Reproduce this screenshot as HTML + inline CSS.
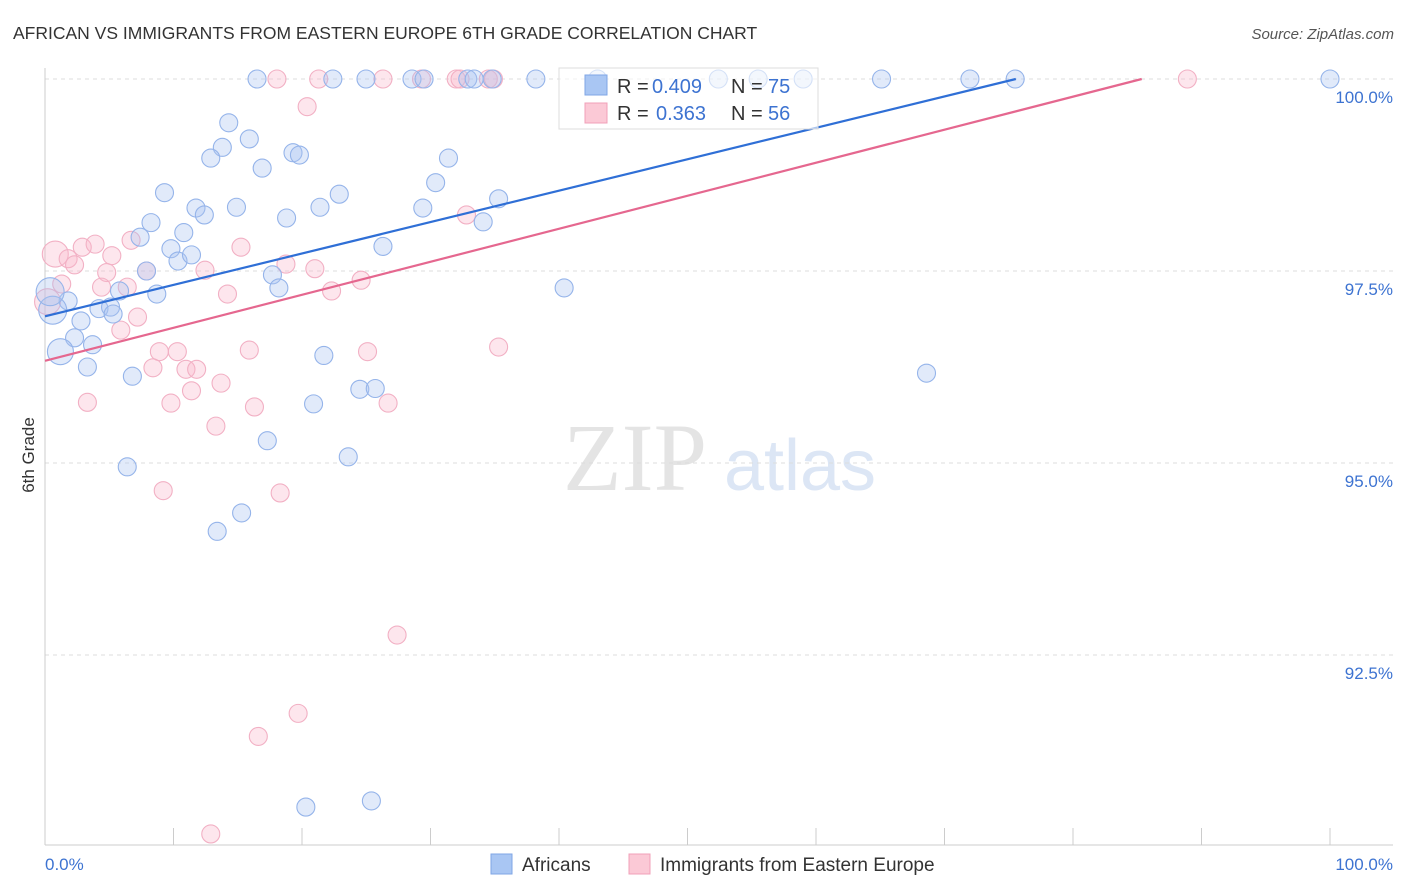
<!DOCTYPE html>
<html><head><meta charset="utf-8"><style>
body{margin:0;background:#fff;font-family:"Liberation Sans",sans-serif;}
svg{display:block}
</style></head><body>
<svg id="chart" width="1406" height="892" viewBox="0 0 1406 892" xmlns="http://www.w3.org/2000/svg">
<text x="13" y="39" font-size="17.5" fill="#333">AFRICAN VS IMMIGRANTS FROM EASTERN EUROPE 6TH GRADE CORRELATION CHART</text>
<text x="1394" y="39" font-size="15" fill="#555" text-anchor="end" font-style="italic">Source: ZipAtlas.com</text>
<g>
<text x="635" y="490" font-size="96" fill="#e4e4e4" text-anchor="middle" font-family="Liberation Serif">ZIP</text>
<text x="800" y="490" font-size="72" fill="#dce6f5" text-anchor="middle">atlas</text>
</g>
<g id="grid"></g>
<g id="axes"></g>
<g id="pts"></g>
<g id="lines"></g>
<text transform="translate(34,455) rotate(-90)" font-size="17" fill="#333" text-anchor="middle">6th Grade</text>
<g>
<rect x="559" y="68" width="259" height="61" fill="#fff" fill-opacity="0.6" stroke="#ddd"/>
<rect x="585" y="75" width="22" height="20" fill="#a9c6f3" stroke="#7fa6e6"/>
<text x="617" y="93" font-size="20" fill="#333">R =</text>
<text x="652" y="93" font-size="20" fill="#3d73d1">0.409</text>
<text x="731" y="93" font-size="20" fill="#333">N =</text>
<text x="768" y="93" font-size="20" fill="#3d73d1">75</text>
<rect x="585" y="103" width="22" height="20" fill="#fbc9d6" stroke="#f0a0b8"/>
<text x="617" y="120" font-size="20" fill="#333">R =</text>
<text x="656" y="120" font-size="20" fill="#3d73d1">0.363</text>
<text x="731" y="120" font-size="20" fill="#333">N =</text>
<text x="768" y="120" font-size="20" fill="#3d73d1">56</text>
</g>
<g>
<rect x="491" y="854" width="21" height="20" fill="#a9c6f3" stroke="#7fa6e6"/>
<text x="522" y="871" font-size="19" fill="#333">Africans</text>
<rect x="629" y="854" width="21" height="20" fill="#fbc9d6" stroke="#f0a0b8"/>
<text x="660" y="871" font-size="19" fill="#333">Immigrants from Eastern Europe</text>
</g>
</svg>
<script>
const blueX=[16.5,22.4,24.98,28.56,29.5,32.9,33.4,34.8,38.2,43,52.4,55.5,59,65.1,71.98,75.5,100,14.3,13.8,12.9,15.9,16.9,19.3,19.8,31.4,30.4,9.3,11.75,12.4,14.9,18.8,21.4,22.9,29.4,35.3,34.1,8.25,7.4,10.8,9.8,10.35,11.4,26.3,7.9,17.7,18.2,40.4,8.7,5.8,1.8,4.2,5.1,5.3,2.8,0.6,0.4,2.3,3.7,1.2,3.3,21.7,6.8,24.5,25.7,20.9,68.6,17.3,23.6,6.4,15.3,13.4,20.3,25.4];
const blueY=[100,100,100,100,100,100,100,100,100,100,100,100,100,100,100,100,100,99.43,99.11,98.97,99.22,98.84,99.04,99.01,98.97,98.65,98.52,98.32,98.23,98.33,98.19,98.33,98.5,98.32,98.44,98.14,98.13,97.94,98,97.79,97.63,97.71,97.82,97.5,97.45,97.28,97.28,97.2,97.24,97.11,97.01,97.03,96.94,96.85,96.99,97.23,96.63,96.54,96.45,96.25,96.4,96.13,95.96,95.97,95.77,96.17,95.29,95.08,94.95,94.35,94.11,90.52,90.6];
const blueR=[9,9,9,9,9,9,9,9,9,9,9,9,9,9,9,9,9,9,9,9,9,9,9,9,9,9,9,9,9,9,9,9,9,9,9,9,9,9,9,9,9,9,9,9,9,9,9,9,9,9,9,9,9,9,14,14,9,9,13,9,9,9,9,9,9,9,9,9,9,9,9,9,9];
const pinkX=[18.05,21.3,26.3,29.3,32,32.3,34.5,34.9,88.9,20.4,32.8,0.8,2.9,3.9,6.7,15.25,1.8,2.3,5.2,4.8,7.9,12.45,18.75,21,24.6,22.3,1.3,4.4,6.4,14.2,0.2,7.2,5.9,8.9,10.3,15.9,25.1,35.3,8.4,10.97,11.8,11.4,13.7,3.3,9.8,16.3,26.7,13.3,9.2,18.3,27.4,19.7,16.6,12.9];
const pinkY=[100,100,100,100,100,100,100,100,100,99.64,98.23,97.72,97.81,97.85,97.9,97.81,97.66,97.58,97.7,97.48,97.5,97.51,97.59,97.53,97.38,97.24,97.33,97.29,97.29,97.2,97.1,96.9,96.73,96.45,96.45,96.47,96.45,96.51,96.24,96.22,96.22,95.94,96.04,95.79,95.78,95.73,95.78,95.48,94.64,94.61,92.76,91.74,91.44,90.17];
const pinkR=pinkX.map((_,i)=>i===11||i===30?13:9);
const fits={blue:{a:96.91,b:0.0409},pink:{a:96.33,b:0.043}};
const xTicks=[0,10,20,30,40,50,60,70,80,90,100];
const yTicks=[100,97.5,95,92.5];
const yLabels=["100.0%","97.5%","95.0%","92.5%"];
const X=v=>45+v*12.85, Y=v=>79+(100-v)*76.8;
const NS="http://www.w3.org/2000/svg";
function mk(t,p,a){const e=document.createElementNS(NS,t);for(const k in a)e.setAttribute(k,a[k]);p.appendChild(e);return e;}
const grid=document.getElementById('grid'),axes=document.getElementById('axes'),pts=document.getElementById('pts'),lines=document.getElementById('lines');
yTicks.forEach((v,i)=>{
 const l=mk('line',grid,{x1:45,x2:1393,y1:Y(v),y2:Y(v),stroke:'#ddd','stroke-dasharray':'4,4'});
 
 
 const t=mk('text',axes,{x:1393,y:Y(v)+24,'font-size':17,fill:'#3d73d1','text-anchor':'end'});t.textContent=yLabels[i];
 
 
});
const ax=mk('line',axes,{x1:45,x2:1393,y1:845,y2:845,stroke:'#ccc'});


const ay=mk('line',axes,{x1:45,x2:45,y1:68,y2:845,stroke:'#ccc'});


xTicks.forEach(v=>{const t=mk('line',axes,{x1:X(v),x2:X(v),y1:828,y2:845,stroke:'#ccc'});
 
 });
[[0,'0.0%','start',45],[100,'100.0%','end',1393]].forEach(d=>{const t=mk('text',axes,{x:d[3],y:870,'font-size':17,fill:'#3d73d1','text-anchor':d[2]});t.textContent=d[1];
 
 });
function dots(xs,ys,rs,fill,stroke,name){xs.forEach((x,i)=>{const c=mk('circle',pts,{cx:X(x),cy:Y(ys[i]),r:rs[i],fill:fill,stroke:stroke,'stroke-width':1.1});
 
 });}
dots(pinkX,pinkY,pinkR,'rgba(248,182,202,0.35)','#f2b0c4','immigrants-point');
dots(blueX,blueY,blueR,'rgba(168,196,242,0.35)','#95b4ea','africans-point');
[['blue','#2f6fd6'],['pink','#e5678f']].forEach(([k,c])=>{const f=fits[k];const xe=Math.min(100,(100-f.a)/f.b);
 const l=mk('line',lines,{x1:X(0),y1:Y(f.a),x2:X(xe),y2:Y(f.a+f.b*xe),stroke:c,'stroke-width':2.2});
 
 });
</script>
</body></html>
